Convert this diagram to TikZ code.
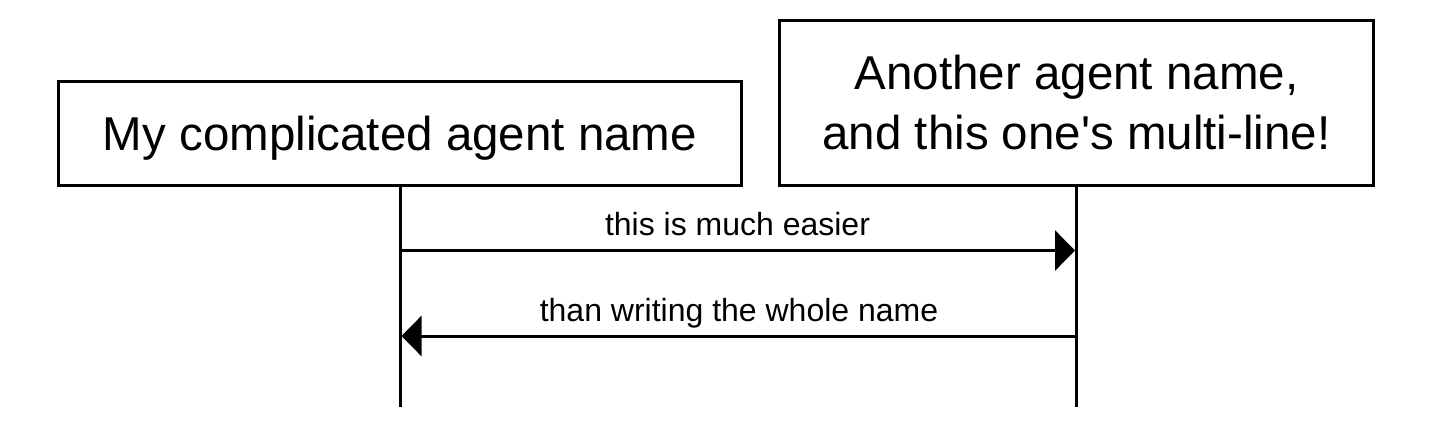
\documentclass[tikz,border=0pt]{standalone}
\usepackage{fontspec}
\setmainfont{Liberation Sans}[Ligatures=TeXOff]
\usetikzlibrary{arrows.meta}
\begin{document}
\begin{tikzpicture}[x=1pt,y=-1pt,
  agent/.style={draw, line width=3pt, inner sep=0pt, font=\fontsize{47.5}{60}\selectfont, align=center},
  lifeline/.style={line width=3pt},
  msg/.style={line width=3pt, -{Triangle[length=20pt,width=40pt]}},
  msglabel/.style={font=\fontsize{32}{38}\selectfont, anchor=base, inner sep=0pt}]
\useasboundingbox (0,0) rectangle (1433,428);
\node[agent, minimum width=683pt, minimum height=103pt, text height=34pt, text depth=0pt] (a) at (400,133.5) {My complicated agent name};
\node[agent, minimum width=594pt, minimum height=164pt] (b) at (1076.5,103) {Another agent name,\\and this one's multi-line!};
\coordinate (aend) at (a.south |- 0,407);
\coordinate (bend) at (b.south |- 0,407);
\draw[lifeline] (a.south) -- (aend);
\draw[lifeline] (b.south) -- (bend);
\coordinate (m1s) at (a.south |- 0,250.5);
\coordinate[xshift=-1.5pt] (m1e) at (b.south |- 0,250.5);
\coordinate (m2s) at (b.south |- 0,336);
\coordinate[xshift=1.5pt] (m2e) at (a.south |- 0,336);
\draw[msg] (m1s) -- (m1e) node[msglabel, midway, yshift=15.5pt] {this is much easier};
\draw[msg] (m2s) -- (m2e) node[msglabel, midway, yshift=14.5pt] {than writing the whole name};
\end{tikzpicture}
\end{document}
